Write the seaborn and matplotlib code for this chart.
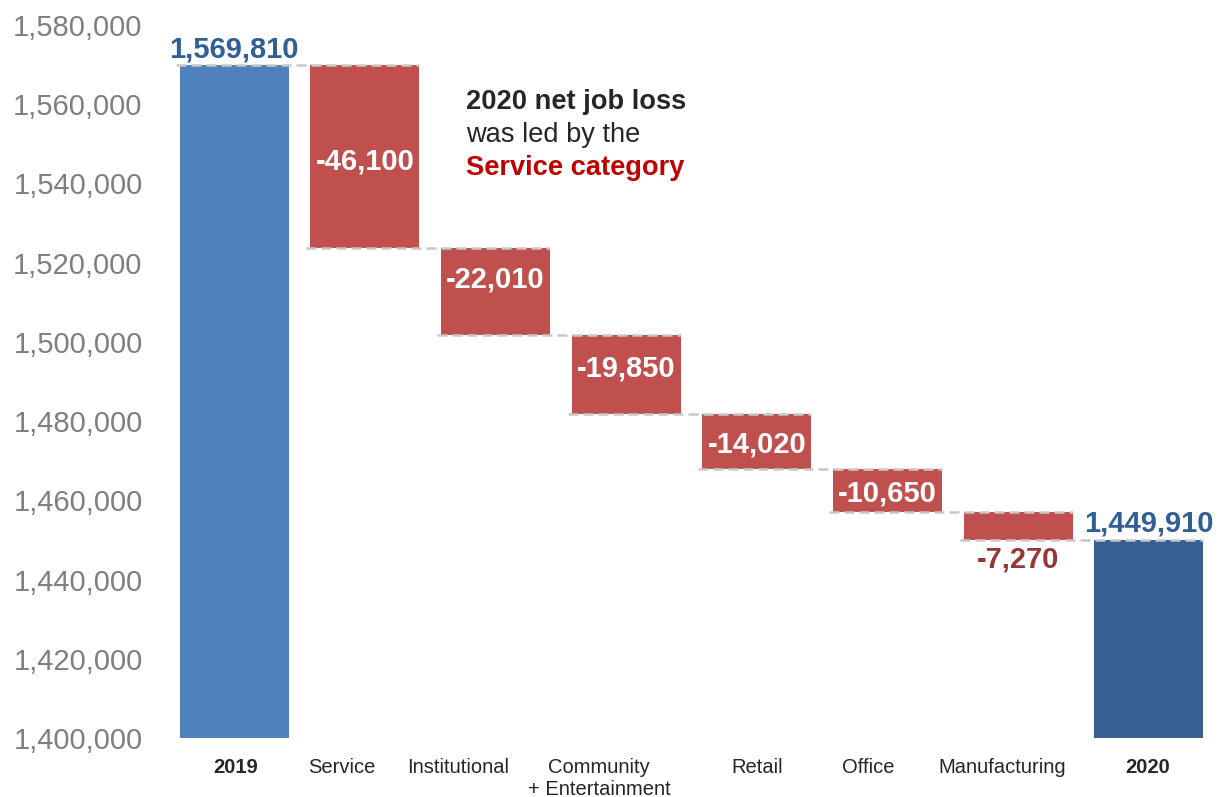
import numpy as np
import pandas as pd
import matplotlib
matplotlib.use("Agg")
import matplotlib.pyplot as plt
from matplotlib.transforms import ScaledTranslation
from matplotlib.ticker import FuncFormatter
import seaborn as sns

# ---- data -------------------------------------------------------------
categories = ["2019", "Service", "Institutional", "Community\n+ Entertainment",
              "Retail", "Office", "Manufacturing", "2020"]
start_total = 1569810
changes = [-46100, -22010, -19850, -14020, -10650, -7270]
end_total = 1449910
y_ticks = list(range(1400000, 1580001, 20000))

# ---- styling -----------------------------------------------------------
sns.set_theme(style="white")
plt.rcParams["font.family"] = ["Liberation Sans", "DejaVu Sans"]

START_COLOR = "#4f81bd"
END_COLOR = "#376092"
LOSS_COLOR = "#c0504d"
TOTAL_LABEL_COLOR = "#2f5f95"
SMALL_LOSS_LABEL = "#953735"
CONNECTOR = "#c8c8c8"

# running totals after each step
levels = [start_total]
for c in changes:
    levels.append(levels[-1] + c)

bottoms = [0] + levels[1:] + [0]
spans = [start_total] + [-c for c in changes] + [end_total]
colors = [START_COLOR] + [LOSS_COLOR] * len(changes) + [END_COLOR]

df = pd.DataFrame({"category": categories, "span": spans})

fig = plt.figure(figsize=(12.31, 7.97), dpi=100)
W, H = 1231, 797
ax = fig.add_axes([169 / W, 1 - 738 / H, 1045 / W, 713 / H])

sns.barplot(data=df, x="category", y="span", order=categories,
            bottom=np.array(bottoms, dtype=float), width=0.835,
            errorbar=None, color=START_COLOR, saturation=1, ax=ax)
for patch, col in zip(ax.patches, colors):
    patch.set_facecolor(col)
    patch.set_edgecolor("none")

ax.set_ylim(1400000, 1580000)
ax.set_xlim(-0.5, len(categories) - 0.5)
ax.set_xlabel("")
ax.set_ylabel("")
for s in ax.spines.values():
    s.set_visible(False)

ax.set_yticks(y_ticks)
ax.yaxis.set_major_formatter(FuncFormatter(lambda v, p: f"{int(v):,}"))
ax.tick_params(axis="y", length=0, pad=19, labelsize=21, labelcolor="#7f7f7f")
ax.tick_params(axis="x", length=0, pad=14.5, labelsize=14.5, labelcolor="#262626")

# category labels sit slightly off their bar centres
label_shift_px = [1, -23, -37, -27, 0, -19, -16, -1]
for lbl, dx in zip(ax.get_xticklabels(), label_shift_px):
    lbl.set_transform(lbl.get_transform() + ScaledTranslation(dx / 100, 0, fig.dpi_scale_trans))
    if lbl.get_text() in ("2019", "2020"):
        lbl.set_fontweight("bold")

patches = ax.patches
centers = [p.get_x() + p.get_width() / 2 for p in patches]
half_w = patches[0].get_width() / 2

# dashed connectors between consecutive bars
for i in range(len(categories) - 1):
    ax.plot([centers[i] - half_w - 0.03, centers[i + 1] + half_w],
            [levels[i], levels[i]], color=CONNECTOR, lw=1.8,
            dashes=(4, 2), zorder=5, solid_capstyle="butt")

# totals
ax.annotate(f"{start_total:,}", xy=(centers[0], start_total), xytext=(0, 5.8),
            textcoords="offset points", ha="center", va="baseline",
            fontsize=21, fontweight="bold", color=TOTAL_LABEL_COLOR, zorder=6)
ax.annotate(f"{end_total:,}", xy=(centers[-1], end_total), xytext=(0, 6.5),
            textcoords="offset points", ha="center", va="baseline",
            fontsize=21, fontweight="bold", color=TOTAL_LABEL_COLOR, zorder=6)

# step labels
inside_shift_pt = [-9.0, 2.9, -1.8, -7.6, -7.9]
for i, c in enumerate(changes):
    x = centers[i + 1]
    top, bot = levels[i], levels[i + 1]
    text = f"{c:,}"
    if i < len(inside_shift_pt):
        ax.annotate(text, xy=(x, (top + bot) / 2), xytext=(0, inside_shift_pt[i]),
                    textcoords="offset points", ha="center", va="baseline",
                    fontsize=21, fontweight="bold", color="white", zorder=6)
    else:
        ax.annotate(text, xy=(x, bot), xytext=(0, -19.5),
                    textcoords="offset points", ha="center", va="baseline",
                    fontsize=21, fontweight="bold", color=SMALL_LOSS_LABEL, zorder=6)

# callout
ax.text(0.284, 0.882, "2020 net job loss", transform=ax.transAxes,
        fontsize=19.6, fontweight="bold", color="#262626", va="baseline", ha="left")
ax.text(0.284, 0.836, "was led by the", transform=ax.transAxes,
        fontsize=19.6, color="#262626", va="baseline", ha="left")
ax.text(0.284, 0.790, "Service category", transform=ax.transAxes,
        fontsize=19.6, fontweight="bold", color="#c00000", va="baseline", ha="left")

fig.savefig("out.png", dpi=100)
